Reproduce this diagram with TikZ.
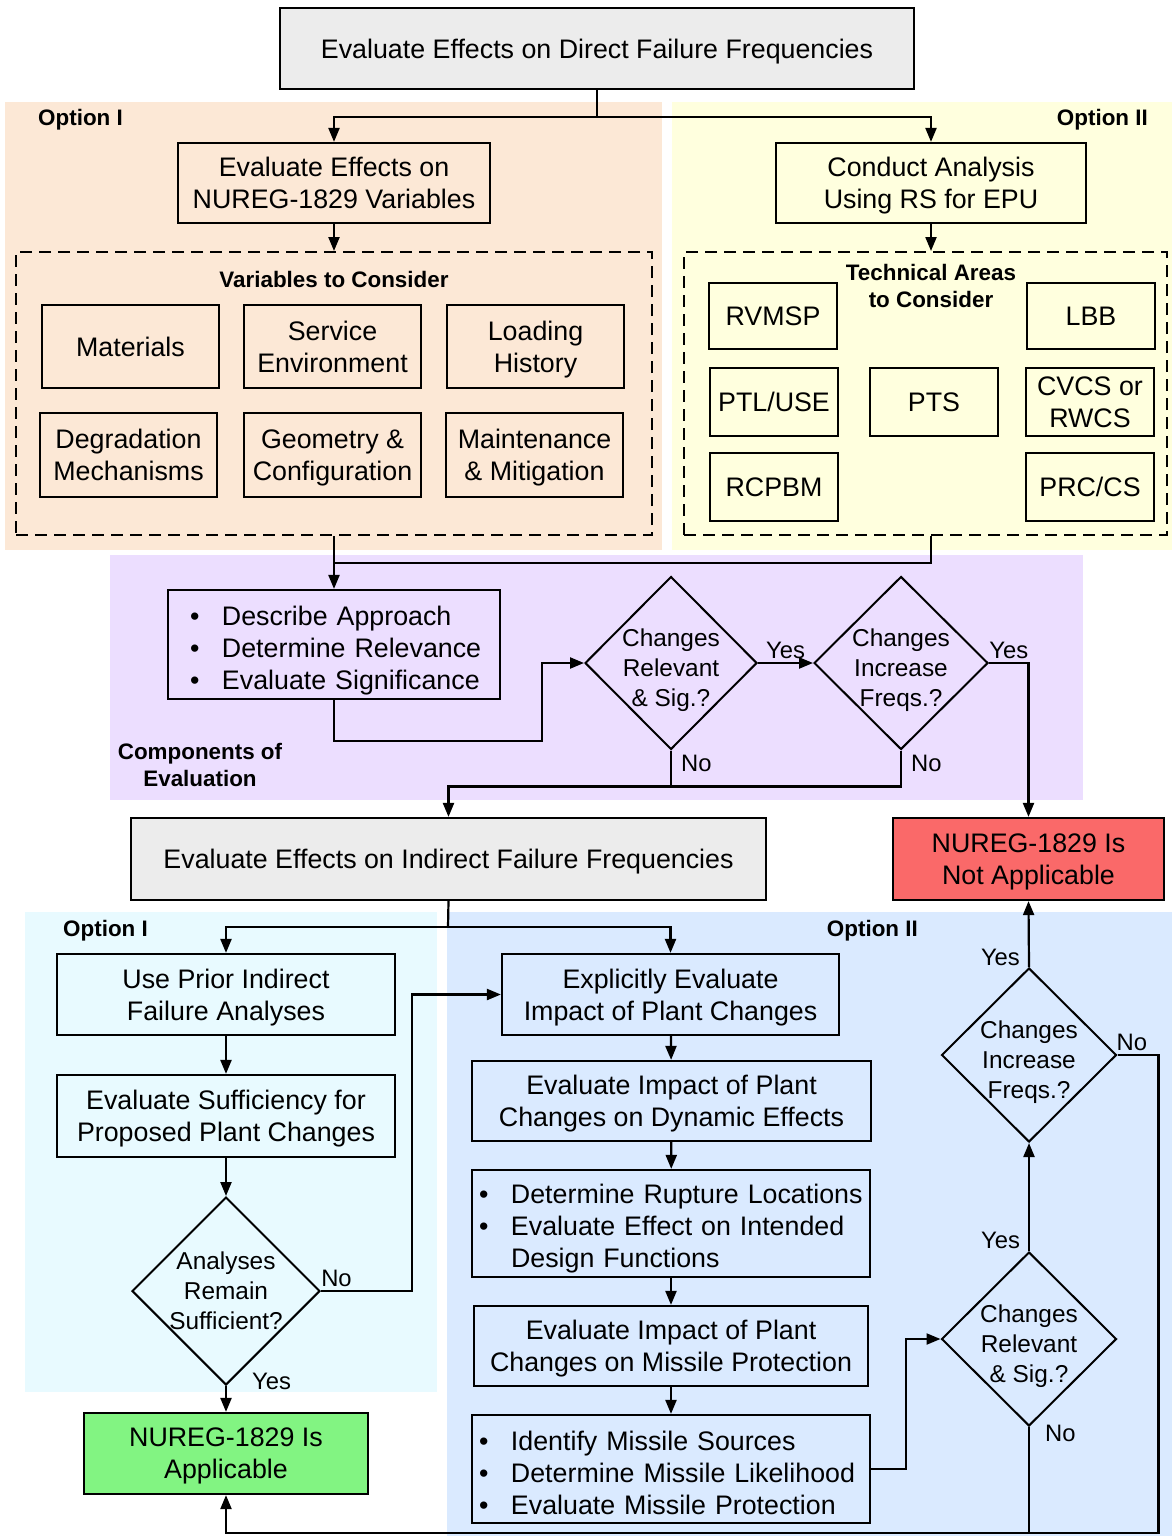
\documentclass[tikz,border=0pt]{standalone}
\usepackage{fontspec}
\setmainfont{Liberation Sans}
\usetikzlibrary{arrows.meta,shapes.geometric}

\definecolor{peach}{RGB}{252,232,214}
\definecolor{paleyellow}{RGB}{255,255,222}
\definecolor{lavender}{RGB}{236,222,255}
\definecolor{palecyan}{RGB}{232,250,255}
\definecolor{paleblue}{RGB}{218,234,255}
\definecolor{boxgray}{RGB}{236,236,236}
\definecolor{stopred}{RGB}{250,105,105}
\definecolor{gogreen}{RGB}{130,244,130}

\newcommand{\bulitem}[2][18pt]{\hspace*{#1}\makebox[32pt][l]{\textbullet}#2}

\tikzset{
  box/.style={draw, line width=2.2pt, align=center, inner sep=0pt, text depth=-3pt, font=\fontsize{26.8}{32}\selectfont},
  listbox/.style={box, align=left, inner xsep=4pt, text width=#1},
  choice/.style={diamond, draw, line width=2pt, align=center, inner sep=-10pt, font=\fontsize{24.4}{30}\selectfont},
  choicetxt/.style={align=center, inner sep=0pt, font=\fontsize{24.4}{30}\selectfont},
  grouplbl/.style={font=\fontsize{22.4}{27}\selectfont\bfseries, align=center, inner sep=0pt},
  groupbox/.style={draw, line width=2pt, dash pattern=on 12pt off 7pt},
  lbl/.style={font=\fontsize{23.8}{28}\selectfont, inner sep=3pt},
  line/.style={line width=2.2pt},
  arr/.style={line, -{Triangle[length=14pt,width=11pt]}},
}

\begin{document}
\begin{tikzpicture}[x=1pt,y=-1pt]
    \useasboundingbox (0,0) rectangle (1172,1536);

    % coloured regions
    \fill[peach] (5,102) rectangle (662,550);
    \fill[paleyellow] (672,102) rectangle (1172,550);
    \fill[lavender] (110,555) rectangle (1083,800);
    \fill[palecyan] (25,912) rectangle (437,1392);
    \fill[paleblue] (447,912) rectangle (1172,1536);

    % direct failure frequencies
    \node[box, fill=boxgray, minimum width=634, minimum height=81] (direct) at (597,48.5) {Evaluate Effects on Direct Failure Frequencies};
    \node[grouplbl, anchor=west] (optA) at (38,120) {Option I};
    \node[grouplbl, anchor=east] (optB) at (1148,120) {Option II};

    % option I (direct)
    \node[box, minimum width=312, minimum height=80] (nurvar) at (334,183) {Evaluate Effects on\\NUREG-1829 Variables};
    \node[groupbox, minimum width=636, minimum height=283] (vars) at (334,393.5) {};
    \node[grouplbl] (varstitle) at (334,279) {Variables to Consider};
    \node[box, minimum width=177, minimum height=83] (materials) at (130.5,346.5) {Materials};
    \node[box, minimum width=177, minimum height=83] (service) at (332.5,346.5) {Service\\Environment};
    \node[box, minimum width=177, minimum height=83] (loading) at (535.5,346.5) {Loading\\History};
    \node[box, minimum width=177, minimum height=84] (degrad) at (128.5,455) {Degradation\\Mechanisms};
    \node[box, minimum width=177, minimum height=84] (geom) at (332.5,455) {Geometry \&\\Configuration};
    \node[box, minimum width=177, minimum height=84] (maint) at (534.5,455) {Maintenance\\\& Mitigation};

    % option II (direct)
    \node[box, minimum width=310, minimum height=80] (rsepu) at (931,183) {Conduct Analysis\\Using RS for EPU};
    \node[groupbox, minimum width=483, minimum height=283] (tech) at (925.5,393.5) {};
    \node[grouplbl] (techtitle) at (931,286) {Technical Areas\\to Consider};
    \node[box, minimum width=128, minimum height=66] (rvmsp) at (773,316) {RVMSP};
    \node[box, minimum width=128, minimum height=66] (lbb) at (1091,316) {LBB};
    \node[box, minimum width=128, minimum height=68] (ptl) at (774,402) {PTL/USE};
    \node[box, minimum width=128, minimum height=68] (pts) at (934,402) {PTS};
    \node[box, minimum width=128, minimum height=68] (cvcs) at (1090,402) {CVCS or\\RWCS};
    \node[box, minimum width=128, minimum height=68] (rcpbm) at (774,487) {RCPBM};
    \node[box, minimum width=128, minimum height=68] (prc) at (1090,487) {PRC/CS};

    \coordinate (splitA) at (597,117);
    \draw[line] (direct.south) -- (splitA);
    \draw[arr] (splitA) -| (nurvar.north);
    \draw[arr] (splitA) -| (rsepu.north);
    \draw[arr] (nurvar.south) -- (vars.north);
    \draw[arr] (rsepu.south) -- (rsepu |- tech.north);

    % components of evaluation
    \node[grouplbl] (comptitle) at (200,765) {Components of\\Evaluation};
    \node[listbox=324pt, minimum height=109, text depth=57pt] (comp) at (334,644.5) {\bulitem{Describe Approach}\\\bulitem{Determine Relevance}\\\bulitem{Evaluate Significance}};
    \node[choice, inner sep=0pt, minimum width=172, minimum height=173] (relA) at (671,663) {};
    \node[choicetxt] (relAtxt) at ([yshift=-7pt]relA.center) {Changes\\Relevant\\\& Sig.?};
    \node[choice, inner sep=0pt, minimum width=174, minimum height=173] (incA) at (901,663) {};
    \node[choicetxt] (incAtxt) at ([yshift=-7pt]incA.center) {Changes\\Increase\\Freqs.?};

    \coordinate (joinA) at (334,563);
    \draw[arr] (vars.south) -- (comp.north);
    \draw[line] (rsepu |- tech.south) |- (joinA);
    \draw[arr] (comp.south) -- ++(0,41) -| ([xshift=-42pt]relA.west) -- (relA.west);
    \draw[arr] (relA.east) -- node[lbl, above] {Yes} (incA.west);
    \draw[line] (relA.south) -- node[lbl, right, pos=0.35, xshift=6pt] {No} ++(0,36);

    % outcomes (top row)
    \node[box, fill=boxgray, minimum width=635, minimum height=82] (indirect) at (448.5,859) {Evaluate Effects on Indirect Failure Frequencies};
    \node[box, fill=stopred, minimum width=271, minimum height=82] (notappl) at (1028.5,859) {NUREG-1829 Is\\Not Applicable};

    \draw[arr] (incA.east) -| node[lbl, above, pos=0.25] {Yes} (notappl.north);
    \draw[arr] (incA.south) -- node[lbl, right, pos=0.35, xshift=6pt] {No} ++(0,36) -| (indirect.north);

    % option I (indirect)
    \node[grouplbl, anchor=west] (optC) at (63,931) {Option I};
    \node[box, minimum width=338, minimum height=81] (prior) at (226,994.5) {Use Prior Indirect\\Failure Analyses};
    \node[box, minimum width=338, minimum height=82] (suffic) at (226,1116) {Evaluate Sufficiency for\\Proposed Plant Changes};
    \node[choice, minimum width=188, minimum height=188] (remain) at (226,1291) {Analyses\\Remain\\Sufficient?};
    \node[box, fill=gogreen, minimum width=284, minimum height=81] (appl) at (226,1453.5) {NUREG-1829 Is\\Applicable};

    % option II (indirect)
    \node[grouplbl, anchor=east] (optD) at (918,931) {Option II};
    \node[box, minimum width=337, minimum height=81] (explicit) at (670.5,994.5) {Explicitly Evaluate\\Impact of Plant Changes};
    \node[box, minimum width=399, minimum height=80] (dynamic) at (671.5,1101) {Evaluate Impact of Plant\\Changes on Dynamic Effects};
    \node[listbox=390pt, minimum height=107, text depth=60pt] (rupture) at (671,1223.5) {\bulitem[3pt]{Determine Rupture Locations}\\\bulitem[3pt]{Evaluate Effect on Intended}\\\hspace*{35pt}Design Functions};
    \node[box, minimum width=394, minimum height=80] (missile) at (671,1346) {Evaluate Impact of Plant\\Changes on Missile Protection};
    \node[listbox=390pt, minimum height=108, text depth=57pt] (sources) at (671,1469) {\bulitem[3pt]{Identify Missile Sources}\\\bulitem[3pt]{Determine Missile Likelihood}\\\bulitem[3pt]{Evaluate Missile Protection}};
    \node[choice, inner sep=0pt, minimum width=175, minimum height=174] (relB) at (1029,1339) {};
    \node[choicetxt] (relBtxt) at ([yshift=-7pt]relB.center) {Changes\\Relevant\\\& Sig.?};
    \node[choice, inner sep=0pt, minimum width=175, minimum height=174] (incB) at (1029,1055) {};
    \node[choicetxt] (incBtxt) at ([yshift=-7pt]incB.center) {Changes\\Increase\\Freqs.?};

    \coordinate (splitB) at (448,927);
    \draw[line] (indirect.south) -- (splitB);
    \draw[arr] (splitB) -| (prior.north);
    \draw[arr] (splitB) -| (explicit.north);
    \draw[arr] (prior) -- (suffic);
    \draw[arr] (suffic) -- (remain);
    \draw[arr] (remain.east) -- node[lbl, above, pos=0.17] {No} ++(91,0) |- (explicit.west);
    \draw[arr] (remain.south) -- node[lbl, above right, pos=0, xshift=22pt, yshift=-8pt] {Yes} (appl.north);
    \draw[arr] (explicit) -- (dynamic);
    \draw[arr] (dynamic) -- (rupture);
    \draw[arr] (rupture) -- (missile);
    \draw[arr] (missile) -- (sources);
    \draw[arr] (sources.east) -- ++(35,0) |- (relB.west);
    \draw[arr] (relB.north) -- node[lbl, left, pos=0.1, xshift=-5pt] {Yes} (incB.south);
    \draw[arr] (incB.north) -- node[lbl, left, pos=0.15, xshift=-5pt] {Yes} (notappl.south);
    \draw[line] (relB.south) -- node[lbl, right, pos=0.06, xshift=12pt] {No} ++(0,107);
    \draw[arr] (incB.east) -- node[lbl, above, pos=0.35] {No} ++(41,0) -- ++(0,478) -| (appl.south);

\end{tikzpicture}
\end{document}
